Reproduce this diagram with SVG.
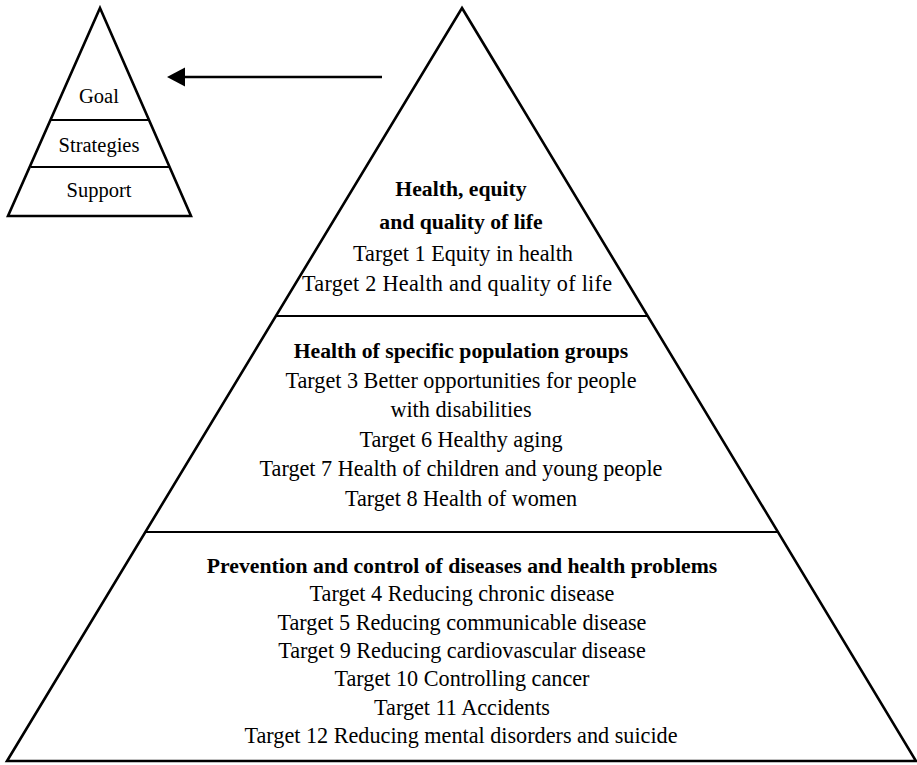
<svg xmlns="http://www.w3.org/2000/svg" width="917" height="765" viewBox="0 0 917 765">
  <style>
    .edge { fill: none; stroke: #000; stroke-width: 2.6; stroke-linejoin: miter; }
    .tier { stroke: #000; stroke-width: 2.2; }
    .lbl { font-size: 22.2px; fill: #000; text-anchor: middle; }
    .hd { font-weight: bold; font-size: 21.7px; }
    .key { font-size: 20.5px; }
  </style>
  <rect width="917" height="765" fill="#fff"/>

  <!-- Small key pyramid -->
  <g id="key-pyramid" font-family="Liberation Serif, DejaVu Serif, serif">
    <polygon class="edge" points="100,8 191,216 8,216"/>
    <line class="tier" x1="51" y1="120" x2="148" y2="120"/>
    <line class="tier" x1="31" y1="167" x2="169" y2="167"/>
    <text class="lbl key" x="99" y="103">Goal</text>
    <text class="lbl key" x="99" y="152">Strategies</text>
    <text class="lbl key" x="99" y="197">Support</text>
  </g>

  <!-- Connector -->
  <g id="connectors">
    <line x1="382" y1="77" x2="184" y2="77" stroke="#000" stroke-width="2.4"/>
    <polygon points="167,77 185,67.5 185,86.5" fill="#000"/>
  </g>

  <!-- Main pyramid outline and tier dividers -->
  <g id="main-pyramid">
    <polygon class="edge" points="462,8 916,761 7,761"/>
    <line class="tier" x1="276" y1="316" x2="648" y2="316"/>
    <line class="tier" x1="145" y1="532" x2="779" y2="532"/>
  </g>

  <!-- Top tier -->
  <g id="tier-goal" font-family="Liberation Serif, DejaVu Serif, serif">
    <text class="lbl hd" x="461" y="196">Health, equity</text>
    <text class="lbl hd" x="461" y="229">and quality of life</text>
    <text class="lbl" x="463" y="261">Target 1 Equity in health</text>
    <text class="lbl" x="457" y="291" textLength="310" lengthAdjust="spacing">Target 2 Health and quality of life</text>
  </g>

  <!-- Middle tier -->
  <g id="tier-strategies" font-family="Liberation Serif, DejaVu Serif, serif">
    <text class="lbl hd" x="461" y="358">Health of specific population groups</text>
    <text class="lbl" x="461" y="387.5">Target 3 Better opportunities for people</text>
    <text class="lbl" x="461" y="417">with disabilities</text>
    <text class="lbl" x="461" y="446.5">Target 6 Healthy aging</text>
    <text class="lbl" x="461" y="476">Target 7 Health of children and young people</text>
    <text class="lbl" x="461" y="505.5">Target 8 Health of women</text>
  </g>

  <!-- Bottom tier -->
  <g id="tier-support" font-family="Liberation Serif, DejaVu Serif, serif">
    <text class="lbl hd" x="462" y="573">Prevention and control of diseases and health problems</text>
    <text class="lbl" x="462" y="601.3">Target 4 Reducing chronic disease</text>
    <text class="lbl" x="462" y="629.7">Target 5 Reducing communicable disease</text>
    <text class="lbl" x="462" y="658">Target 9 Reducing cardiovascular disease</text>
    <text class="lbl" x="462" y="686.3">Target 10 Controlling cancer</text>
    <text class="lbl" x="462" y="714.7">Target 11 Accidents</text>
    <text class="lbl" x="461" y="743">Target 12 Reducing mental disorders and suicide</text>
  </g>
</svg>
